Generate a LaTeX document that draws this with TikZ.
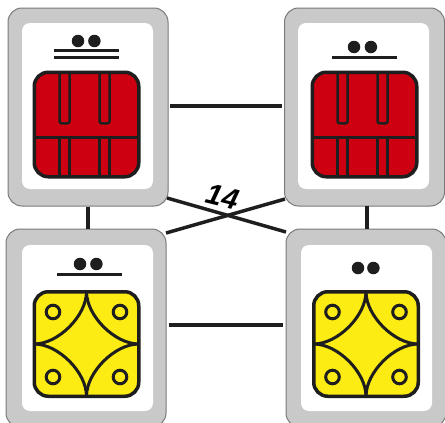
\documentclass[tikz,border=0pt]{standalone}
\usepackage{fontspec}
\setsansfont{Liberation Sans}
\usetikzlibrary{positioning}

\definecolor{cardgray}{HTML}{C9C9C9}
\definecolor{cardedge}{HTML}{7A7A7A}
\definecolor{chipred}{HTML}{CC0010}
\definecolor{chipyellow}{HTML}{FDEB14}
\definecolor{inkdark}{HTML}{1E1E1E}

\begin{document}
\begin{tikzpicture}[x=1pt, y=-1pt]

% styles
\pgfkeys{/card/.style={draw=cardedge, line width=1pt, fill=cardgray, rounded corners=14pt, minimum width=160pt, minimum height=198pt, inner sep=0}} % outer gray card
\pgfkeys{/panel/.style={fill=white, rounded corners=8pt, minimum width=131pt, minimum height=166pt, inner sep=0}} % white inside
\pgfkeys{/chip/.style={draw=inkdark, line width=3.5pt, rounded corners=14pt, minimum size=104.5pt, inner sep=0, outer sep=0}} % base style for chips
\pgfkeys{/redchip/.style={/chip, fill=chipred}}
\pgfkeys{/yellowchip/.style={/chip, fill=chipyellow}}
\pgfkeys{/dot/.style={circle, fill=inkdark, minimum size=12.5pt, inner sep=0}}
\pgfkeys{/link/.style={draw=inkdark, line width=3.5pt}} % connectors
\pgfkeys{/ink/.style={draw=inkdark, line width=3pt}} % lines on the chips
\pgfkeys{/slot/.style={draw=inkdark, line width=2.5pt}} % lines of the red chip slots

\useasboundingbox (0,0) rectangle (445,423);
\clip (0,0) rectangle (445,423);

% cards
\node[/card] (tl) at (88,107) {};
\node[/card] (tr) at (364.5,107) {};
\node[/card] (bl) at (86,328) {};
\node[/card] (br) at (366,328) {};

% connectors
\coordinate (lowleft) at (166,325);
\coordinate (lowright) at (286,325);
\coordinate (highleft) at (168,106);
\coordinate (highright) at (284,106);
\coordinate (rightup) at (367,206);
\coordinate (crossa) at (167,198);
\coordinate (crossb) at (286,232);
\coordinate (crossc) at (285,199);
\coordinate (crossd) at (166,233);
\draw[/link, shorten >=2pt, shorten <=2pt] (highleft) -- (highright);
\draw[/link, shorten >=3pt, shorten <=3pt] (lowleft) -- (lowright);
\draw[/link] (tl.south) -- (bl.north -| tl.south);
\draw[/link] (rightup) -- (rightup |- br.north);
\draw[/link] (crossa) -- (crossb);
\draw[/link] (crossc) -- (crossd);
\node[font=\sffamily\bfseries\itshape\fontsize{29}{29}\selectfont, inner sep=0, rotate=-14] (count) at (223,197) {14};

% white panels
\node[/panel] (ptl) at (87.5,106) {};
\node[/panel] (ptr) at (363.5,106) {};
\node[/panel] (pbl) at (87.5,328) {};
\node[/panel] (pbr) at (366.5,328) {};

% chips
\node[/redchip] (ctl) at (86.5,124.5) {};
\node[/redchip] (ctr) at (364.5,124.5) {};
\node[/yellowchip] (cbl) at (86.5,344) {};
\node[/yellowchip] (cbr) at (366,344) {};

% red chip slots
\foreach \c in {ctl,ctr} {
\draw[/slot, rounded corners=2pt] ([xshift=-27pt]\c.north) -- ++(0,51) -- ++(10,0) -- ++(0,-51); % left slot
\draw[/slot, rounded corners=2pt] ([xshift=13pt]\c.north) -- ++(0,51) -- ++(10,0) -- ++(0,-51); % right slot
\draw[/ink] ([yshift=-13pt]\c.west) -- ([yshift=-13pt]\c.east);
\foreach \d in {-27,-17,13,23} {
\draw[/slot] ([xshift=\d pt]\c.south) -- ++(0,-39);
}
}

% yellow chip arcs and holes
\foreach \c in {cbl,cbr} {
\draw[/ink] (\c.north) .. controls +(0,24) and +(24,0) .. (\c.west);
\draw[/ink] (\c.north) .. controls +(0,24) and +(-24,0) .. (\c.east);
\draw[/ink] (\c.south) .. controls +(0,-24) and +(24,0) .. (\c.west);
\draw[/ink] (\c.south) .. controls +(0,-24) and +(-24,0) .. (\c.east);
\foreach \a/\b in {-33.5/32,33.5/32,-33.5/-33,33.5/-33} {
\draw[/ink] ([xshift=\a pt,yshift=\b pt]\c.center) circle[radius=6.8pt];
}
}

% dots and bars
\node[/dot] (d1) at (78,41) {};
\node[/dot, right=3.5pt of d1] (d2) {};
\node[/dot] (d3) at (354,47) {};
\node[/dot, right=4pt of d3] (d4) {};
\node[/dot] (d5) at (80,264) {};
\node[/dot, right=3.5pt of d5] (d6) {};
\node[/dot] (d7) at (358,268) {};
\node[/dot, right=2.5pt of d7] (d8) {};
\coordinate (b1) at (54,50);
\coordinate (b2) at (119,50);
\coordinate (b3) at (54,57);
\coordinate (b4) at (119,57);
\coordinate (b5) at (332,57);
\coordinate (b6) at (397,57);
\coordinate (b7) at (57,274);
\coordinate (b8) at (122,274);
\foreach \p/\q in {b1/b2,b3/b4,b5/b6,b7/b8} {
\draw[/ink] (\p) -- (\q);
}

\end{tikzpicture}
\end{document}
